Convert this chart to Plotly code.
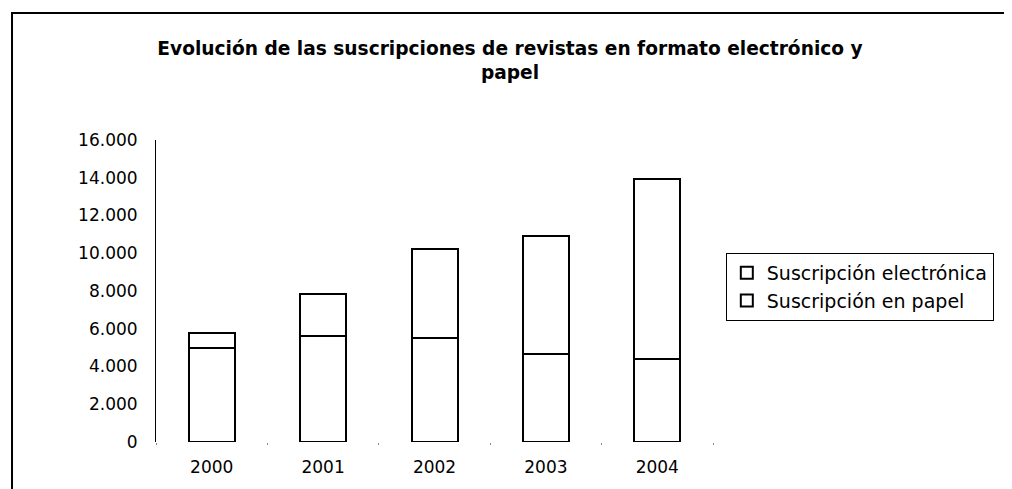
import plotly.graph_objects as go

# datos
anios = ["2000", "2001", "2002", "2003", "2004"]
papel = [5000, 5600, 5500, 4650, 4400]
electronica = [800, 2250, 4700, 6250, 9550]

fuente = "DejaVu Sans, Arial, sans-serif"

fig = go.Figure()

# primero papel (abajo), luego electrónica (arriba)
fig.add_trace(go.Bar(
    x=anios, y=papel, name="Suscripción en papel",
    marker=dict(color="white", line=dict(color="black", width=2)),
))
fig.add_trace(go.Bar(
    x=anios, y=electronica, name="Suscripción electrónica",
    marker=dict(color="white", line=dict(color="black", width=2)),
))

# la página añade 8 px de margen al cuerpo, así que el lienzo es algo menor
fig.update_layout(
    width=1004, height=481,
    barmode="stack", bargap=0.587,
    separators=",.",
    paper_bgcolor="white", plot_bgcolor="white",
    margin=dict(l=148, r=299, t=132, b=47),
    font=dict(family=fuente, size=17, color="black"),
    title=dict(
        text="<b>Evolución de las suscripciones de revistas en formato electrónico y<br>papel</b>",
        x=0.5, xanchor="center", y=0.903, yanchor="top",
        font=dict(family=fuente, size=18.6, color="black"),
    ),
    showlegend=True,
    legend=dict(
        x=1.023, y=0.626, xanchor="left", yanchor="top",
        traceorder="reversed",
        bordercolor="black", borderwidth=1, bgcolor="white",
        font=dict(family=fuente, size=19, color="black"),
        itemwidth=30,
    ),
    xaxis=dict(
        showline=False, showgrid=False,
        ticks="outside", tickson="boundaries", ticklen=2, tickcolor="#888",
        ticklabelstandoff=13,
    ),
    yaxis=dict(
        range=[0, 16000], dtick=2000, tickformat=",d",
        showgrid=False, zeroline=False,
        showline=True, linecolor="black", linewidth=1,
        ticks="", ticklabelstandoff=14,
    ),
    # marco exterior del gráfico
    shapes=[dict(
        type="rect", xref="paper", yref="paper",
        x0=-0.2585, x1=1.55, y0=-0.25, y1=1.4205,
        line=dict(color="black", width=2), fillcolor="rgba(0,0,0,0)",
    )],
)

fig.write_html("out.html")
